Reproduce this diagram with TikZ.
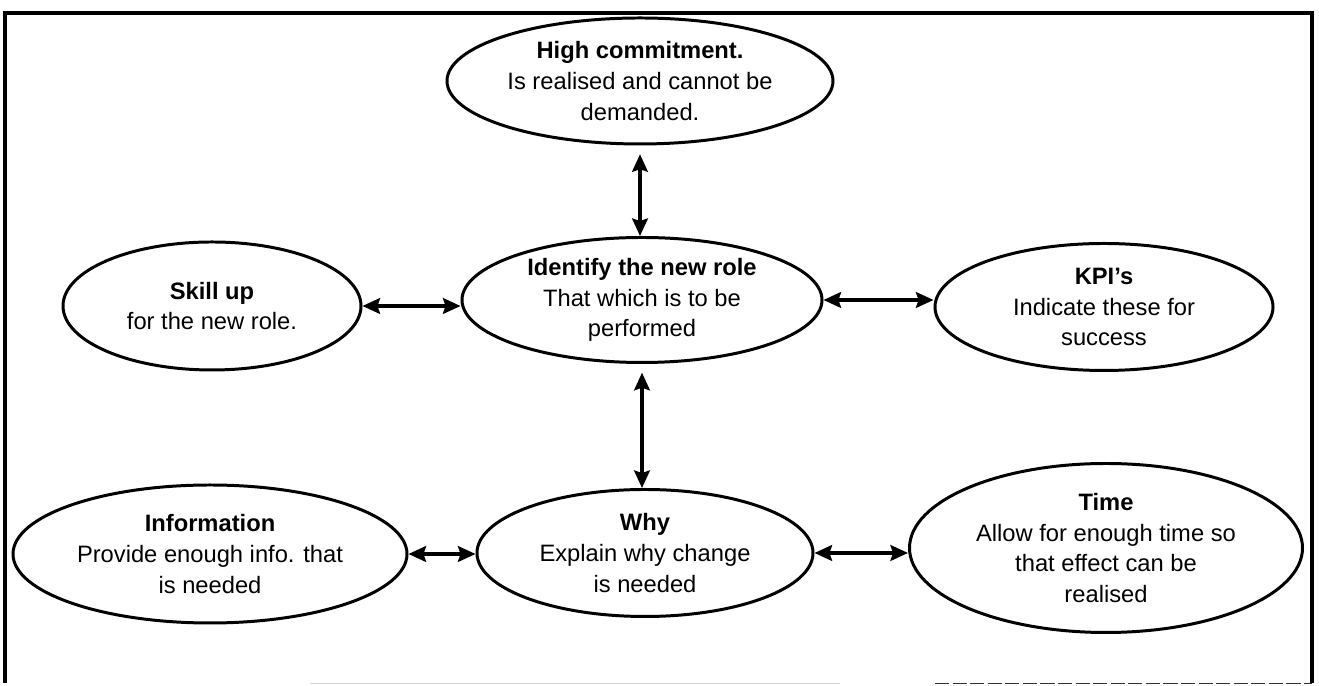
\documentclass[tikz,border=0pt]{standalone}
\usepackage{fontspec}
\setmainfont{Liberation Sans}
\usetikzlibrary{arrows, arrows.meta, shapes.geometric}

\begin{document}
\begin{tikzpicture}[
  bubble/.style={draw, ellipse, line width=1.7pt, inner sep=0pt, align=center, font=\fontsize{13.5}{17.5}\selectfont},
  twoway/.style={line width=1.8pt, arrows={Stealth[length=10pt,width=9pt,inset=1.5pt]-Stealth[length=10pt,width=9pt,inset=1.5pt]}}]
\useasboundingbox (0,0) rectangle (26.38,13.72);
%\draw[step=0.5cm,gray,very thin] (0,0) grid (26.38,13.72); %background grid
\draw[line width=2.3pt](0.1,0.06) -- (0.1,13.46) -- (26.24,13.46) -- (26.24,0.06); %frame
\draw[gray!35](6.2,0.06) -- (16.8,0.06);
\draw[black!80, dash pattern=on 8pt off 2pt](18.7,0.06) -- (26.24,0.06);

\node[bubble, minimum width=7.72cm, minimum height=2.52cm] (high) at (12.80,12.10) {\textbf{High commitment.}\\Is realised and cannot be\\demanded.}; %top
\node[bubble, minimum width=5.96cm, minimum height=2.56cm] (skill) at (4.24,7.60) {\textbf{Skill up}\\for the new role.}; %left
\node[bubble, minimum width=7.20cm, minimum height=2.50cm] (role) at (12.84,7.72) {\textbf{Identify the new role}\\That which is to be\\performed}; %centre
\node[bubble, minimum width=6.76cm, minimum height=2.54cm] (kpi) at (22.08,7.58) {\textbf{KPI's}\\Indicate these for\\success}; %right
\node[bubble, minimum width=7.88cm, minimum height=2.76cm] (info) at (4.20,2.64) {\textbf{Information}\\Provide enough info. that\\is needed}; %bottom left
\node[bubble, minimum width=6.72cm, minimum height=2.54cm] (why) at (12.90,2.66) {\textbf{Why}\\Explain why change\\is needed}; %bottom
\node[bubble, minimum width=7.86cm, minimum height=3.38cm] (time) at (22.12,2.76) {\textbf{Time}\\Allow for enough time so\\that effect can be\\realised}; %bottom right

\draw[twoway, shorten <=5pt] (high.south) -- (high.south |- role.north);
\draw[twoway, shorten <=5pt] (role.south) -- (role.south |- why.north);
\draw[twoway] (skill.east) -- (skill.east -| role.west);
\draw[twoway] (role.east) -- (role.east -| kpi.west);
\draw[twoway] (info.east) -- (info.east -| why.west);
\draw[twoway] (why.east) -- (why.east -| time.west);
\end{tikzpicture}
\end{document}
